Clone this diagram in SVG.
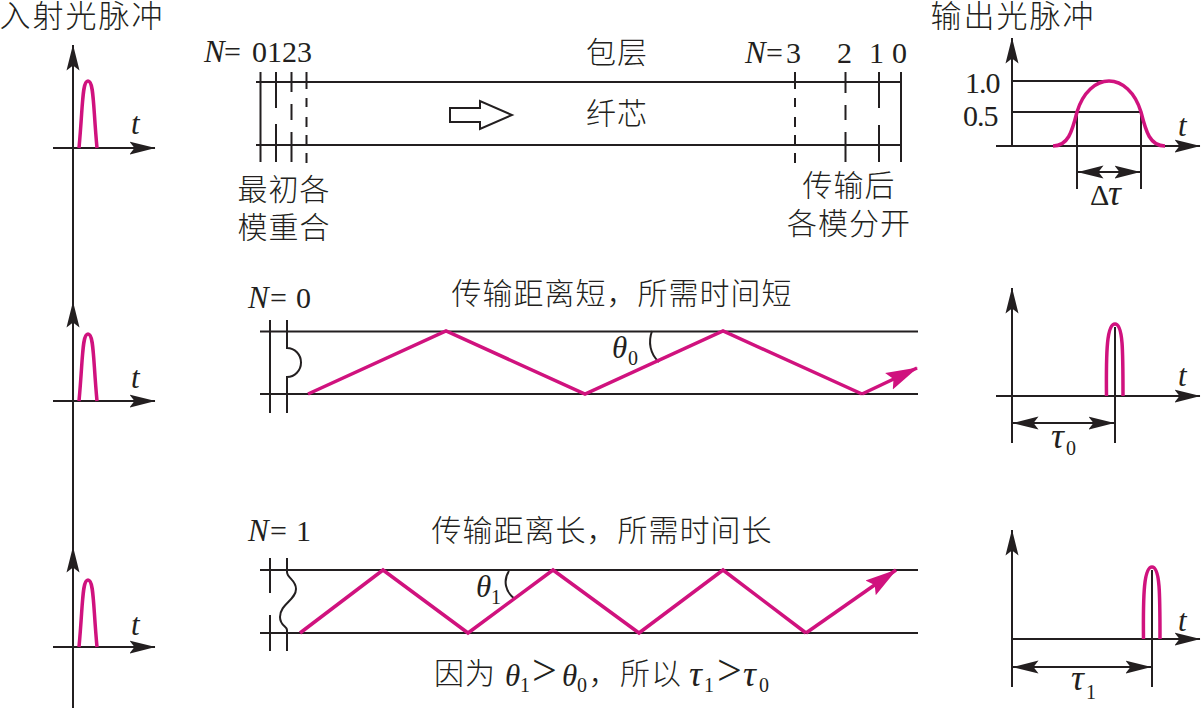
<svg xmlns="http://www.w3.org/2000/svg" width="1201" height="708" viewBox="0 0 1201 708">
<defs>
<marker id="ah" markerUnits="userSpaceOnUse" viewBox="0 0 26 14" refX="25.5" refY="7" markerWidth="26" markerHeight="14" orient="auto-start-reverse"><path d="M0 0.5L26 7L0 13.5L5 7Z" fill="#231f20"/></marker>
<marker id="pa" markerUnits="userSpaceOnUse" viewBox="0 0 32 20" refX="31" refY="10" markerWidth="32" markerHeight="20" orient="auto"><path d="M0 1L32 10L0 19L5 10Z" fill="#d0127e"/></marker>
</defs>
<style>
text{fill:#231f20;font-family:"Liberation Serif","Noto Sans CJK SC",serif}
.c{font-size:30px;letter-spacing:1px;text-anchor:middle;font-weight:300}
.h{font-size:31px;letter-spacing:2px;text-anchor:middle;font-weight:300}
.l{font-size:30px}
.i{font-size:31px;font-style:italic}
.t{font-size:36px;font-style:italic}
.s{font-size:20px}
.g{font-size:44px}
.k{fill:none;stroke:#231f20;stroke-width:2}
.a{fill:none;stroke:#231f20;stroke-width:2;marker-end:url(#ah)}
.d{fill:none;stroke:#231f20;stroke-width:2;marker-start:url(#ah);marker-end:url(#ah)}
.p{fill:none;stroke:#d0127e;stroke-width:3.5}
.pa{fill:none;stroke:#d0127e;stroke-width:3.5;marker-end:url(#pa)}
</style>
<rect width="1201" height="708" fill="#fff"/>
<g id="connectors">
<path class="a" d="M73 708V45"/><path class="a" d="M73 400V302"/><path class="a" d="M73 640V547"/>
<path class="a" d="M53 148H155"/><path class="a" d="M53 401H155"/><path class="a" d="M53 647H155"/>
<path class="k" d="M256 82H902M256 145H902"/>
<path class="k" d="M260.500 72V162M276 72V108M276 124V162M291.500 72V92M291.500 104V120M291.500 132V162"/>
<path class="k" d="M306.500 72V89M306.500 98V107M306.500 117V127M306.500 135V145M306.500 153V163"/>
<path class="k" d="M450 108H480V101L512 115L480 129V122H450Z"/>
<path class="k" d="M795 72V89M795 98V107M795 117V127M795 135V145M795 153V163"/>
<path class="k" d="M845.500 72V93M845.500 105V120M845.500 132V162"/>
<path class="k" d="M879 72V108M879 125V162M901 72V162"/>
<path class="a" d="M1012 146V38"/><path class="a" d="M996 146H1200"/>
<path class="k" d="M1012 81H1107M1012 112H1142M1077 112V189M1141 112V189"/>
<path class="d" d="M1078 172H1140"/>
<path class="k" d="M260 331.500H918M260 394H918M270 320V413"/>
<path class="k" d="M287 320V348A14 14.500 0 0 1 287 377V413"/>
<path class="k" d="M652 331C648 342 650 354 659 362"/>
<path class="a" d="M1012 443V288"/><path class="a" d="M996 396H1200"/>
<path class="k" d="M1115 327V443"/><path class="d" d="M1013 423H1114"/>
<path class="k" d="M260 570H918M260 633H918M270 558V593M270 615V651"/>
<path class="k" d="M287 558V572C287 578 296 580 296 589C296 600 280 604 280 617C280 626 287 626 287 630V651"/>
<path class="k" d="M509 571C503 580 505 592 515 599"/>
<path class="a" d="M1012 687V530"/><path class="a" d="M1012 639H1200"/>
<path class="k" d="M1152 570V687"/><path class="d" d="M1013 667H1151"/>
</g>
<g id="pulses">
<path class="p" d="M79 148C83 105 82 81 88 81C94 81 93 105 97 148"/>
<path class="p" d="M79 401C83 358 82 334 88 334C94 334 93 358 97 401"/>
<path class="p" d="M79 647C83 604 82 580 88 580C94 580 93 604 97 647"/>
<path class="p" d="M1053 146C1068 146 1072 132 1077 112C1083 92 1096 81 1109 81C1122 81 1135 92 1141 112C1146 132 1150 146 1165 146"/>
<path class="p" d="M1106.500 396C1106 350 1107 324 1115 324C1123 324 1123 350 1123 396"/>
<path class="p" d="M1143.500 639C1143 594 1144 567 1152 567C1160 567 1160 594 1160 639"/>
</g>
<g id="rays">
<path class="p" d="M308 394L446 331L585 394L723 331L862 394"/>
<path class="pa" d="M862 394L917 368"/>
<path class="p" d="M300 633L383 570L468 633L553 570L639 633L723 570L806 633"/>
<path class="pa" d="M806 633L896 570"/>
</g>
<g id="labels">
<text class="h" x="82" y="27">入射光脉冲</text>
<text class="h" x="1013" y="27">输出光脉冲</text>
<text class="i" x="204" y="62">N</text><text class="l" x="224" y="62">=</text><text class="l" x="252" y="62">0123</text>
<text class="c" x="617" y="63">包层</text>
<text class="c" x="617" y="124">纤芯</text>
<text class="i" x="745" y="63">N</text><text class="l" x="766" y="63">=</text><text class="l" x="786" y="63">3</text>
<text class="l" x="837" y="63">2</text><text class="l" x="869" y="63">1</text><text class="l" x="892" y="63">0</text>
<text class="c" x="284" y="200">最初各</text><text class="c" x="284" y="238">模重合</text>
<text class="c" x="849" y="196">传输后</text><text class="c" x="849" y="234">各模分开</text>
<text class="i" x="131" y="134">t</text><text class="i" x="131" y="388">t</text><text class="i" x="131" y="635">t</text>
<text class="i" x="1178" y="136">t</text><text class="i" x="1178" y="386">t</text><text class="i" x="1178" y="631">t</text>
<text class="l" x="965" y="93" letter-spacing="-1">1.0</text><text class="l" x="963" y="126" letter-spacing="-1">0.5</text>
<text class="l" x="1090" y="205">Δ</text><text class="t" x="1108" y="205">τ</text>
<text class="i" x="248" y="308">N</text><text class="l" x="270" y="308">=</text><text class="l" x="296" y="308">0</text>
<text class="c" x="622" y="304">传输距离短，所需时间短</text>
<text class="i" x="612" y="358">θ</text><text class="s" x="628" y="365">0</text>
<text class="i" x="248" y="541">N</text><text class="l" x="270" y="541">=</text><text class="l" x="296" y="541">1</text>
<text class="c" x="602" y="541">传输距离长，所需时间长</text>
<text class="i" x="476" y="597">θ</text><text class="s" x="491" y="604">1</text>
<text class="t" x="1051" y="448">τ</text><text class="s" x="1066" y="455">0</text>
<text class="t" x="1071" y="690">τ</text><text class="s" x="1086" y="699">1</text>
<text class="c" x="465" y="684">因为</text>
<text class="i" x="505" y="686">θ</text><text class="s" x="520" y="692">1</text><text class="g" x="532" y="685">&gt;</text><text class="i" x="562" y="686">θ</text><text class="s" x="577" y="692">0</text>
<text class="c" x="604" y="684">，</text>
<text class="c" x="651" y="684">所以</text>
<text class="t" x="689" y="686">τ</text><text class="s" x="704" y="692">1</text><text class="g" x="717" y="685">&gt;</text><text class="t" x="743" y="686">τ</text><text class="s" x="759" y="692">0</text>
</g>
</svg>
